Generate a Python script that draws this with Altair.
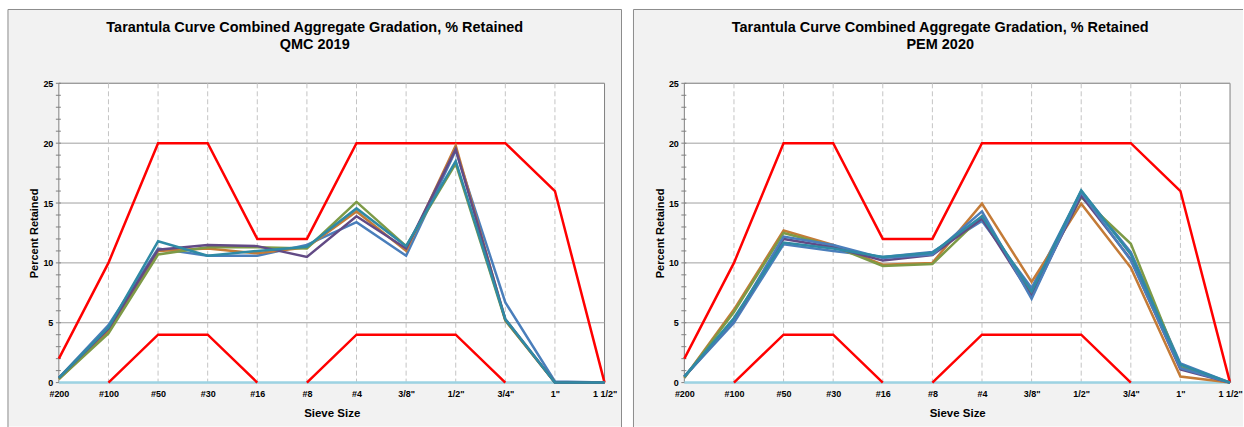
import altair as alt
import pandas as pd

# ---------------- data ----------------
sieves = ['#200', '#100', '#50', '#30', '#16', '#8', '#4', '3/8"', '1/2"', '3/4"', '1"', '1 1/2"']

upper_limit = [2, 10, 20, 20, 12, 12, 20, 20, 20, 20, 16, 0]
lower_fine_sieves = ['#100', '#50', '#30', '#16']
lower_fine = [0, 4, 4, 0]
lower_coarse_sieves = ['#8', '#4', '3/8"', '1/2"', '3/4"']
lower_coarse = [0, 4, 4, 4, 0]
zero_line = [0, 0, 0, 0, 0, 0, 0, 0, 0, 0, 0, 0]

# QMC 2019
qmc_blue = [0.4, 4.8, 11.2, 10.6, 10.6, 11.5, 13.4, 10.6, 19.4, 6.7, 0.1, 0.0]
qmc_orange = [0.3, 4.3, 11.0, 11.2, 10.8, 11.3, 14.3, 11.0, 19.8, 5.2, 0.0, 0.0]
qmc_green = [0.3, 4.1, 10.7, 11.3, 11.3, 11.2, 15.1, 11.4, 18.3, 5.2, 0.0, 0.0]
qmc_purple = [0.4, 4.5, 11.1, 11.5, 11.4, 10.5, 13.9, 11.2, 19.5, 5.3, 0.0, 0.0]
qmc_teal = [0.4, 4.6, 11.8, 10.6, 11.0, 11.35, 14.55, 11.4, 18.5, 5.3, 0.0, 0.0]

# PEM 2020
pem_blue = [0.5, 5.0, 11.55, 11.0, 10.5, 10.9, 13.5, 7.9, 16.0, 10.9, 1.6, 0.0]
pem_orange = [0.4, 6.1, 12.7, 11.5, 9.85, 10.0, 14.95, 8.4, 14.95, 9.6, 0.5, 0.0]
pem_green = [0.4, 5.9, 12.5, 11.4, 9.75, 9.9, 13.9, 7.5, 15.5, 11.6, 1.3, 0.0]
pem_purple = [0.5, 5.2, 12.0, 11.3, 10.2, 10.65, 13.7, 7.2, 15.6, 10.3, 1.1, 0.0]
pem_red = [0.5, 5.2, 12.2, 11.5, 10.4, 10.7, 14.3, 7.0, 15.9, 10.2, 1.2, 0.0]
pem_teal = [0.5, 5.4, 11.7, 11.2, 10.5, 10.85, 13.9, 7.6, 16.05, 10.7, 1.5, 0.0]

y_major = [0, 5, 10, 15, 20, 25]
y_ticks = [0, 1, 2, 3, 4, 5, 6, 7, 8, 9, 10, 11, 12, 13, 14, 15, 16, 17, 18, 19, 20, 21, 22, 23, 24, 25]

COLORS = {
    'blue': '#4A7EBB', 'orange': '#C47B37', 'green': '#7D9A46',
    'purple': '#624A85', 'teal': '#2F8AA5', 'red': '#B0413E',
}

W, H = 547, 300
FONT = 'Liberation Sans'
xscale = alt.Scale(type='point', domain=sieves, padding=0, paddingOuter=0)
yscale = alt.Scale(domain=[0, 25], nice=False, zero=True)

xaxis = alt.Axis(labelFont=FONT, labelFontSize=9, labelFontWeight='bold', labelColor='#000000',
                 labelPadding=7, labelAngle=0, ticks=False, domain=False, grid=False,
                 titleFont=FONT, titleFontSize=11.5, titleFontWeight='bold', titleColor='#000000',
                 titlePadding=9, zindex=1)
yaxis = alt.Axis(values=y_major, labelFont=FONT, labelFontSize=9, labelFontWeight='bold',
                 labelColor='#000000', labelPadding=6, ticks=False, domain=False, grid=False,
                 titleFont=FONT, titleFontSize=11, titleFontWeight='bold', titleColor='#000000',
                 titlePadding=3, zindex=1)


def X(field):
    return alt.X(field, scale=xscale, title='Sieve Size', axis=xaxis)


def Y(field):
    return alt.Y(field, scale=yscale, title='Percent Retained', axis=yaxis)


def long_frame(series):
    rows = []
    for name, vals in series:
        for s, v in zip(sieves, vals):
            rows.append({'sieve': s, 'value': v, 'series': name})
    return pd.DataFrame(rows)


def panel(subtitle, series, rect_right, right_border):
    one = pd.DataFrame({'k': [0]})
    L, T, B = -51, -74, H + 45
    R = W + rect_right
    bg = alt.Chart(one).mark_rect(fill='#f2f2f2').encode(
        x=alt.value(L), x2=alt.value(R), y=alt.value(T), y2=alt.value(H + 44))
    edge = dict(color='#8c8c8c', strokeWidth=1)
    borders = [
        alt.Chart(one).mark_rule(**edge).encode(x=alt.value(L), y=alt.value(T), y2=alt.value(B)),
        alt.Chart(one).mark_rule(**edge).encode(x=alt.value(L), x2=alt.value(R), y=alt.value(T)),
    ]
    if right_border:
        borders.append(alt.Chart(one).mark_rule(**edge).encode(x=alt.value(R), y=alt.value(T), y2=alt.value(B)))
    plotbg = alt.Chart(one).mark_rect(fill='white', stroke='#808080', strokeWidth=1).encode(
        x=alt.value(0), x2=alt.value(W), y=alt.value(0), y2=alt.value(H))
    hgrid = alt.Chart(pd.DataFrame({'value': y_major[1:]})).mark_rule(color='#a0a0a0', strokeWidth=1).encode(
        y=Y('value:Q'))
    vgrid = alt.Chart(pd.DataFrame({'sieve': sieves[1:-1]})).mark_rule(
        color='#c4c4c4', strokeWidth=1, strokeDash=[5, 3]).encode(x=X('sieve:N'))
    ticks = alt.Chart(pd.DataFrame({'value': y_ticks})).mark_rule(color='#7f7f7f', strokeWidth=1).encode(
        y=Y('value:Q'), x=alt.value(-3), x2=alt.value(2))
    t1 = alt.Chart(one).mark_text(
        text='Tarantula Curve Combined Aggregate Gradation, % Retained', font=FONT,
        fontSize=14.5, fontWeight='bold', align='center', baseline='alphabetic', color='#000000').encode(
        x=alt.value((W - 34) / 2), y=alt.value(-51.5))
    t2 = alt.Chart(one).mark_text(
        text=subtitle, font=FONT, fontSize=14.5, fontWeight='bold', align='center',
        baseline='alphabetic', color='#000000').encode(
        x=alt.value((W - 34) / 2), y=alt.value(-34))

    zero = alt.Chart(pd.DataFrame({'sieve': sieves, 'value': zero_line})).mark_line(
        color='#9dd3e3', strokeWidth=2.5).encode(x=X('sieve:N'), y=Y('value:Q'))

    lim_rows = []
    for s, v in zip(sieves, upper_limit):
        lim_rows.append({'sieve': s, 'value': v, 'seg': 'upper'})
    for s, v in zip(lower_fine_sieves, lower_fine):
        lim_rows.append({'sieve': s, 'value': v, 'seg': 'lower_fine'})
    for s, v in zip(lower_coarse_sieves, lower_coarse):
        lim_rows.append({'sieve': s, 'value': v, 'seg': 'lower_coarse'})
    limits = alt.Chart(pd.DataFrame(lim_rows)).mark_line(color='#FF0000', strokeWidth=2.5).encode(
        x=X('sieve:N'), y=Y('value:Q'), detail='seg:N')

    df = long_frame(series)
    names = [n for n, _ in series]
    lines = alt.Chart(df).mark_line(strokeWidth=2.5).encode(
        x=X('sieve:N'), y=Y('value:Q'),
        color=alt.Color('series:N', scale=alt.Scale(domain=names, range=[COLORS[n] for n in names]),
                        legend=None),
    )
    return alt.layer(bg, *borders, plotbg, hgrid, vgrid, ticks, zero, limits, lines, t1, t2).properties(
        width=W, height=H)


left = panel('QMC 2019', [('blue', qmc_blue), ('orange', qmc_orange), ('green', qmc_green),
                          ('purple', qmc_purple), ('teal', qmc_teal)], 17, True)
right = panel('PEM 2020', [('blue', pem_blue), ('orange', pem_orange), ('green', pem_green),
                           ('purple', pem_purple), ('red', pem_red), ('teal', pem_teal)], 13, False)

chart = alt.hconcat(left, right, spacing=10).properties(
    padding={'left': 7, 'top': 8, 'right': 0, 'bottom': 0}, background='white'
).configure_view(strokeWidth=0)

chart.save('out.html', embed_options={'renderer': 'svg', 'actions': False})
